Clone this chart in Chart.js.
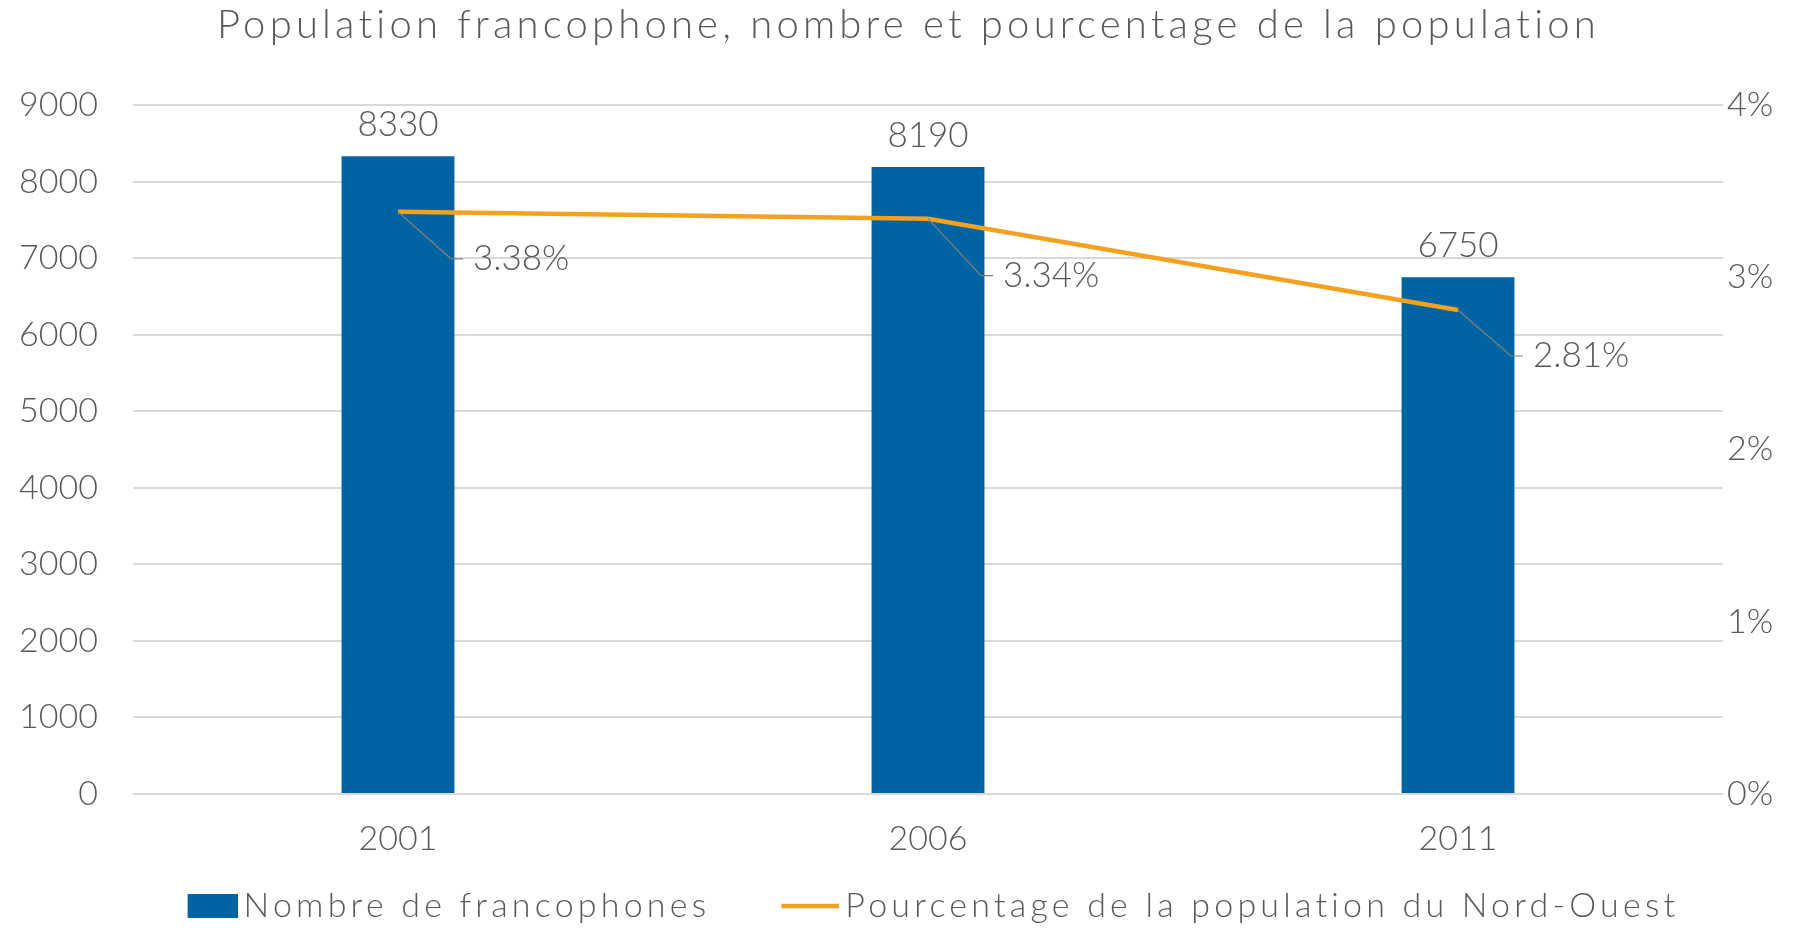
<!DOCTYPE html>
<html>
<head>
<meta charset="utf-8">
<script src="https://cdn.jsdelivr.net/npm/chart.js@4/dist/chart.umd.min.js"></script>
<style>
  html, body { margin: 0; padding: 0; background: #fff; }
  #wrap { width: 1817px; height: 928px; }
</style>
</head>
<body>
<div id="wrap"><canvas id="chart"></canvas></div>
<script>
var years = ['2001', '2006', '2011'];
var francophones = [8330, 8190, 6750];
var pourcentage = [3.38, 3.34, 2.81];
var pctLabelDy = [47, 57, 46];

var FONT = 'Lato';
var GREY = '#595959';
var BLUE = '#0064A2';
var ORANGE = '#F4A11F';
var SPACING = '4.2px'; // titre et légende plus larges, comme Century Gothic
var PSW = 89;          // largeur de la case de légende

// symboles de légende (case bleue / trait orange), calés à droite de la case
function legendMark(kind) {
  var c = document.createElement('canvas');
  c.width = PSW + 22; c.height = 26;
  var g = c.getContext('2d');
  if (kind === 'bar') {
    g.fillStyle = BLUE;
    g.fillRect(c.width - 50, 1, 50, 24);
  } else {
    g.strokeStyle = ORANGE;
    g.lineWidth = 4.5;
    g.beginPath();
    g.moveTo(c.width - 58, 13);
    g.lineTo(c.width, 13);
    g.stroke();
  }
  return c;
}
var marks = [legendMark('bar'), legendMark('line')];

// espacement des lettres pour titre + légende, étiquettes de données ensuite
var dataLabels = {
  id: 'dataLabels',
  beforeLayout: function(chart) { chart.ctx.letterSpacing = SPACING; },
  afterLayout: function(chart) { chart.ctx.letterSpacing = '0px'; },
  beforeDraw: function(chart) { chart.ctx.letterSpacing = SPACING; },
  afterDatasetsDraw: function(chart) {
    var ctx = chart.ctx;
    ctx.letterSpacing = '0px';
    ctx.save();
    ctx.font = '300 35px ' + FONT;
    ctx.fillStyle = GREY;
    var bars = chart.getDatasetMeta(0).data;
    ctx.textAlign = 'center';
    ctx.textBaseline = 'alphabetic';
    bars.forEach(function(bar, i) {
      ctx.fillText(String(francophones[i]), bar.x, bar.y - 20);
    });
    var pts = chart.getDatasetMeta(1).data;
    ctx.textAlign = 'left';
    ctx.textBaseline = 'middle';
    pts.forEach(function(p, i) {
      var ex = p.x + 53, ey = p.y + pctLabelDy[i];
      ctx.strokeStyle = '#808080';
      ctx.lineWidth = 1.2;
      ctx.beginPath();
      ctx.moveTo(p.x, p.y);
      ctx.lineTo(ex, ey);
      ctx.lineTo(ex + 12, ey);
      ctx.stroke();
      ctx.fillText(pourcentage[i].toFixed(2) + '%', ex + 22, ey);
    });
    ctx.restore();
  }
};

var tickFont = { family: FONT, size: 34, weight: '300' };

new Chart(document.getElementById('chart'), {
  data: {
    labels: years,
    datasets: [{
      type: 'bar',
      label: 'Nombre de francophones',
      data: francophones,
      backgroundColor: BLUE,
      borderWidth: 0,
      yAxisID: 'y',
      order: 2,
      categoryPercentage: 1,
      barPercentage: 0.213
    }, {
      type: 'line',
      label: 'Pourcentage de la population du Nord-Ouest',
      data: pourcentage,
      borderColor: ORANGE,
      backgroundColor: ORANGE,
      borderWidth: 4.5,
      pointRadius: 0,
      tension: 0,
      yAxisID: 'y1',
      order: 1
    }]
  },
  options: {
    responsive: true,
    maintainAspectRatio: false,
    animation: false,
    layout: { padding: { left: 0, right: 0, top: 0, bottom: -5 } },
    plugins: {
      title: {
        display: true,
        text: 'Population francophone, nombre et pourcentage de la population',
        color: GREY,
        font: { family: FONT, size: 40, weight: '300' },
        padding: { top: 1, bottom: 56 }
      },
      legend: {
        position: 'bottom',
        labels: {
          usePointStyle: true,
          pointStyleWidth: PSW,
          boxHeight: 24,
          color: GREY,
          font: { family: FONT, size: 34, weight: '300' },
          padding: 29,
          sort: function(a, b) { return a.datasetIndex - b.datasetIndex; },
          generateLabels: function(chart) {
            var items = Chart.defaults.plugins.legend.labels.generateLabels(chart);
            items.forEach(function(it) { it.pointStyle = marks[it.datasetIndex]; });
            return items;
          }
        }
      },
      tooltip: { enabled: false }
    },
    scales: {
      x: {
        grid: { display: false, drawTicks: false },
        border: { display: false },
        ticks: { color: GREY, font: tickFont, padding: 25, z: 1 },
        afterFit: function(s) { s.height = 66; }
      },
      y: {
        position: 'left',
        min: 0, max: 9000,
        ticks: { stepSize: 1000, color: GREY, font: tickFont, padding: 35, z: 1,
          callback: function(v) { return String(v); } },
        grid: { color: '#d9d9d9', lineWidth: 2, drawTicks: false },
        border: { display: false },
        afterFit: function(s) { s.width = 133; }
      },
      y1: {
        position: 'right',
        min: 0, max: 4,
        ticks: { stepSize: 1, color: GREY, font: tickFont, padding: 4, z: 1,
          callback: function(v) { return v + '%'; } },
        grid: { display: false, drawTicks: false },
        border: { display: false },
        afterFit: function(s) { s.width = 94; }
      }
    }
  },
  plugins: [dataLabels]
});
</script>
</body>
</html>
